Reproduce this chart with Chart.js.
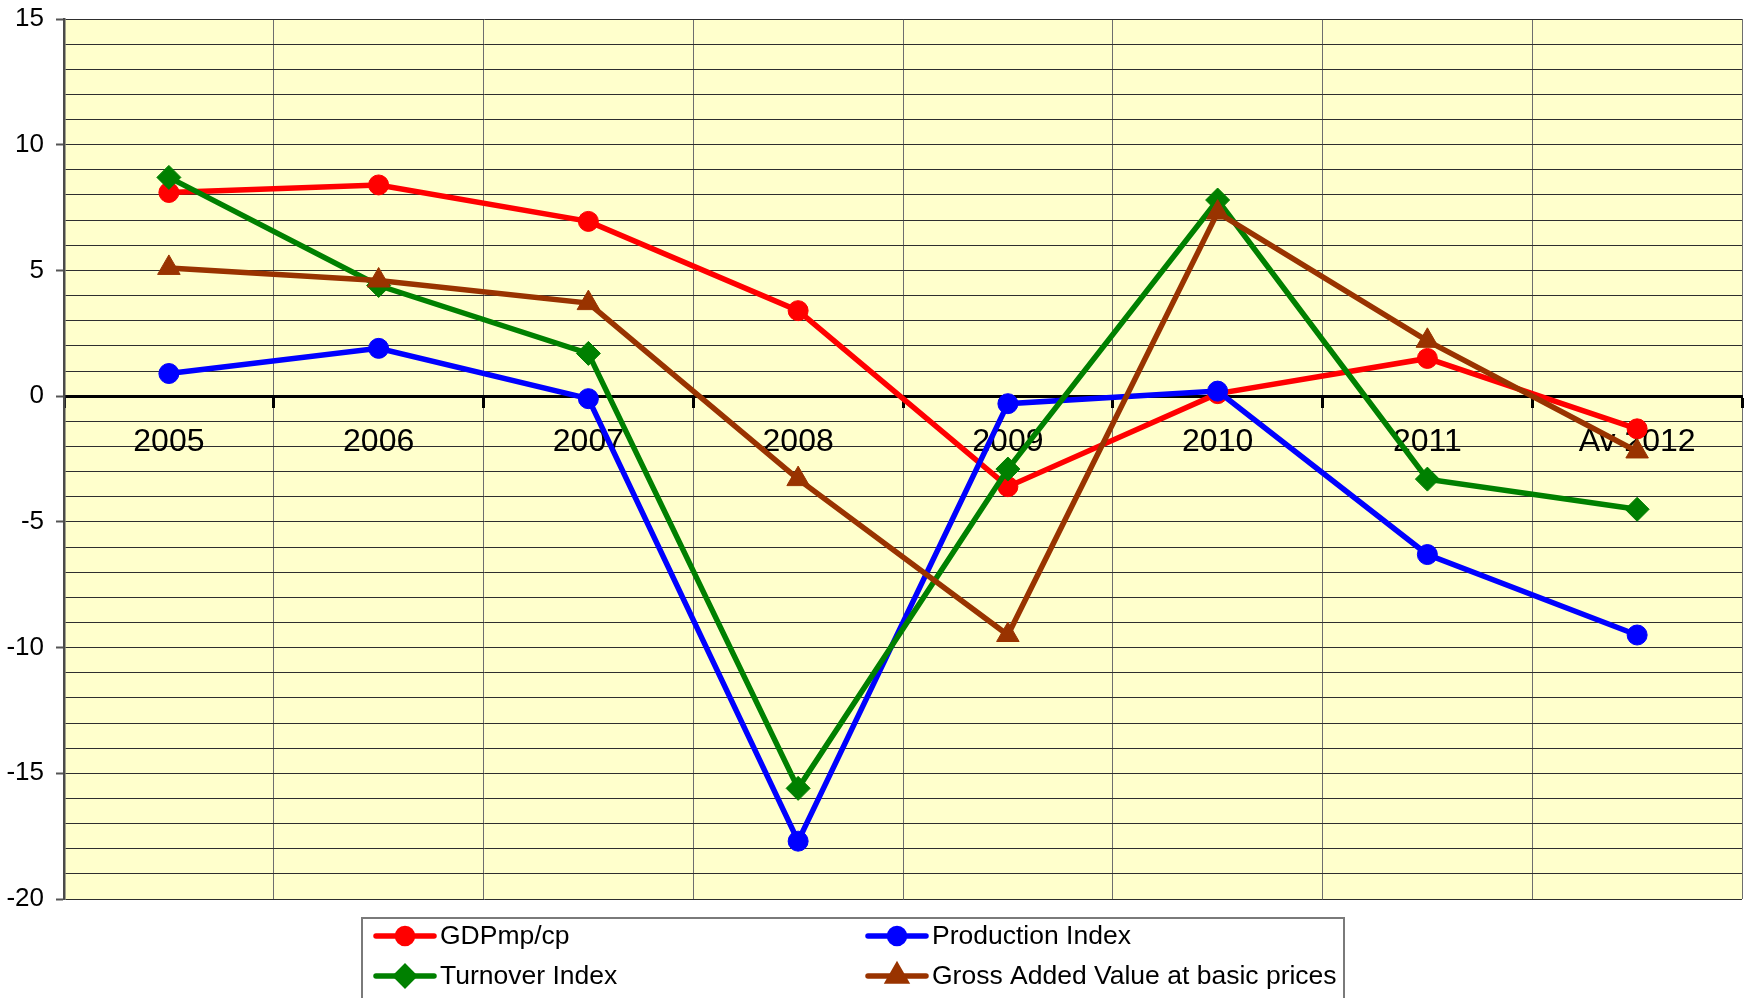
<!DOCTYPE html>
<html>
<head>
<meta charset="utf-8">
<script src="https://cdn.jsdelivr.net/npm/chart.js@4/dist/chart.umd.min.js"></script>
<style>
  html, body { margin: 0; padding: 0; background: #fff; }
  #wrap { width: 1756px; height: 998px; }
</style>
</head>
<body>
<div id="wrap"><canvas id="chart" width="1756" height="998"></canvas></div>
<script>
const YEARS = ["2005", "2006", "2007", "2008", "2009", "2010", "2011", "Av 2012"];
const GDP = [8.1, 8.4, 6.95, 3.4, -3.6, 0.1, 1.5, -1.3];
const PRODUCTION = [0.9, 1.9, -0.1, -17.7, -0.3, 0.2, -6.3, -9.5];
const TURNOVER = [8.7, 4.4, 1.7, -15.6, -2.9, 7.8, -3.3, -4.5];
const GVA = [5.1, 4.6, 3.7, -3.3, -9.5, 7.3, 2.2, -2.2];
const Y_MIN = -20, Y_MAX = 15;

const FONT = "'Liberation Sans', Arial, sans-serif";

function series(label, data, color, style, radius, order) {
    return {
        label, data, order,
        borderColor: color, backgroundColor: color,
        borderWidth: 5.5, tension: 0,
        pointStyle: style, pointRadius: radius, pointHoverRadius: radius,
        pointBackgroundColor: color, pointBorderColor: color, pointBorderWidth: 1,
    };
}

const plotBg = {
    id: "plotBg",
    beforeDraw(chart) {
        const { ctx, chartArea: a } = chart;
        ctx.save();
        ctx.fillStyle = "#FFFFCC";
        ctx.fillRect(a.left, a.top, a.right - a.left, a.bottom - a.top);
        ctx.restore();
    },
};

const boxLegend = {
    id: "boxLegend",
    afterDraw(chart) {
        const ctx = chart.ctx;
        ctx.save();
        ctx.strokeStyle = "#7a7a7a";
        ctx.lineWidth = 2;
        ctx.strokeRect(362, 918, 982, 100);
        const slots = [[376, 936], [868, 936], [376, 976], [868, 976]];
        chart.data.datasets.forEach((ds, i) => {
            const [x, y] = slots[i];
            ctx.strokeStyle = ds.borderColor;
            ctx.lineWidth = 5.5;
            ctx.lineCap = "round";
            ctx.beginPath();
            ctx.moveTo(x, y);
            ctx.lineTo(x + 58, y);
            ctx.stroke();
            ctx.fillStyle = ds.backgroundColor;
            Chart.helpers.drawPoint(ctx, { pointStyle: ds.pointStyle, radius: ds.pointRadius * 0.75, rotation: 0, borderWidth: 1 }, x + 29, y);
            ctx.fill();
            ctx.fillStyle = "#000";
            ctx.font = "26.5px " + FONT;
            ctx.textBaseline = "middle";
            ctx.textAlign = "left";
            ctx.fillText(ds.label, x + 64, y + 1);
        });
        ctx.restore();
    },
};

new Chart(document.getElementById("chart"), {
    type: "line",
    data: {
        labels: YEARS,
        datasets: [
            series("GDPmp/cp", GDP, "#FF0000", "circle", 10, 4),
            series("Production Index", PRODUCTION, "#0000FF", "circle", 10, 3),
            series("Turnover Index", TURNOVER, "#008000", "rectRot", 12, 2),
            series("Gross Added Value at basic prices", GVA, "#993300", "triangle", 13, 1),
        ],
    },
    options: {
        responsive: false,
        animation: false,
        layout: { padding: { top: 19, right: 3, bottom: 99, left: 0 } },
        plugins: { legend: { display: false }, tooltip: { enabled: false } },
        scales: {
            x: {
                type: "category",
                position: { y: 0 },
                offset: true,
                grid: { offset: true, color: "#6e6e6e", lineWidth: 1, tickLength: 10, tickColor: "#000", tickWidth: 3 },
                border: { display: true, color: "#000", width: 3 },
                ticks: { color: "#000", padding: 17, font: { family: FONT, size: 32 }, maxRotation: 0 },
                afterFit(scale) { scale.paddingTop = 0; scale.paddingBottom = 0; },
            },
            y: {
                min: Y_MIN, max: Y_MAX,
                afterFit(scale) { scale.width = 64; scale.paddingTop = 0; scale.paddingBottom = 0; },
                grid: {
                    color: (c) => c.tick && c.tick.value === 0 ? "#000" : "#2e2e2e",
                    lineWidth: (c) => c.tick && c.tick.value === 0 ? 3 : 1,
                    tickLength: 8,
                    tickColor: (c) => c.tick && c.tick.value % 5 === 0 ? "#555" : "rgba(0,0,0,0)",
                    tickWidth: 2,
                },
                border: { display: true, color: "#4a4a4a", width: 2.5 },
                ticks: {
                    stepSize: 1, autoSkip: false, padding: 12, color: "#000",
                    font: { family: FONT, size: 26 },
                    callback: (v) => v % 5 === 0 ? v : "",
                },
            },
        },
    },
    plugins: [plotBg, boxLegend],
});
</script>
</body>
</html>
